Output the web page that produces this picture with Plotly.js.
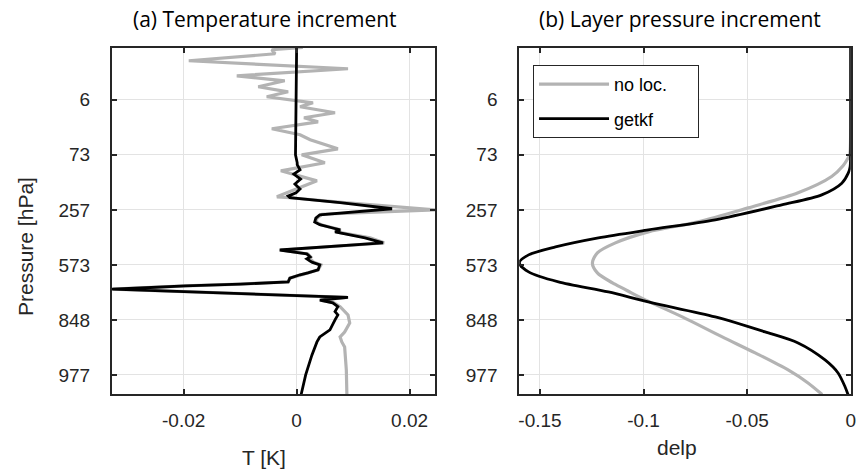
<!DOCTYPE html>
<html>
<head>
<meta charset="utf-8">
<script src="https://cdn.plot.ly/plotly-3.0.1.min.js"></script>
<style>html,body{margin:0;padding:0;background:#fff;}#chart{width:860px;height:475px;}</style>
</head>
<body>
<div id="chart"></div>
<script>
// ---- data (model level index vs increment) ----
const levelsTempNoLoc = [64.5,64.09,63.36,62.09,60.64,59.36,58.45,57.36,56.45,55.55,54.45,53.73,52.64,51.73,51.0,49.73,48.64,47.73,46.09,45.0,43.55,42.09,40.27,39.0,37.36,37.2,36.3,35.0,34.2,33.5,32.8,32.3,31.7,31.36,31.0,30.6,29.9,29.0,27.7,27.0,26.45,26.1,25.5,25.0,24.1,23.55,23.2,22.6,21.9,21.5,21.2,20.8,20.6,19.1,18.6,18.1,17.4,15.9,14.45,12.8,11.9,11.0,10.1,5.9,1.45];
const tempNoLoc = [0.0011,-0.0044,-0.0038,-0.0191,0.0091,-0.0106,-0.0021,-0.0068,-0.0015,-0.0053,0.0029,0.0006,0.0068,0.0013,0.0038,-0.0044,0.0006,0.0024,0.0073,0.0009,0.005,-0.0028,0.0036,0.0006,-0.0035,-0.0012,0.0085,0.0245,0.0045,0.0036,0.0034,0.0043,0.0066,0.0078,0.007,0.0094,0.013,0.0155,-0.0028,0.002,0.0025,0.0024,0.003,0.0043,0.0038,0.002,0.0006,-0.0012,-0.0015,-0.01,-0.0197,-0.0277,-0.0325,0.0089,0.0043,0.0066,0.0077,0.0091,0.0094,0.0085,0.0077,0.008,0.0085,0.0088,0.0089];

const levelsTempGetkf = [64.5,55.0,47.7,45.0,43.55,43.2,42.27,41.5,40.6,39.7,38.8,38.1,37.5,37.2,36.3,35.2,34.1,33.5,32.8,32.3,31.7,31.36,31.0,30.6,29.9,29.0,27.7,27.0,26.45,26.1,25.5,25.0,24.1,23.55,23.2,22.6,21.9,21.5,21.2,20.8,20.6,19.1,18.6,18.1,17.4,16.5,15.9,15.0,13.2,11.9,11.0,8.6,5.0,1.45];
const tempGetkf = [0,-0.0001,-0.0001,-0.0002,0.0001,0.0001,0.0006,-0.0005,0.0007,-0.0003,0.0006,-0.0001,-0.0015,-0.0012,0.0077,0.0169,0.0041,0.0034,0.0032,0.0041,0.0064,0.0077,0.0068,0.0089,0.0121,0.0153,-0.003,0.0018,0.0024,0.0018,0.0027,0.0041,0.0038,0.002,0.0006,-0.0012,-0.0015,-0.01,-0.0197,-0.0277,-0.0327,0.0091,0.0041,0.0064,0.0073,0.0068,0.0073,0.0068,0.0059,0.0041,0.0036,0.0027,0.0016,0.0008];

const levelsDelpNoLoc = [64.5,50,46,45.0,44.45,43.0,41.05,38.09,35.36,32.82,31.0,29.0,27.18,25.36,23.55,21.73,20.64,19.91,18.64,15.55,11.91,9.0,5.91,3.55,1.45];
const delpNoLoc = [0,0,-0.0002,-0.0005,-0.0012,-0.0037,-0.0092,-0.0254,-0.0495,-0.0736,-0.0977,-0.1136,-0.1223,-0.1247,-0.1223,-0.115,-0.1094,-0.1059,-0.0992,-0.0813,-0.062,-0.0461,-0.0302,-0.0206,-0.0138];

const levelsDelpGetkf = [64.5,50,44,42.8,41.67,39.85,37.73,35.91,33.18,31.36,29.91,28.27,26.82,25.36,23.73,21.91,20.09,18.27,15.55,12.82,10.82,7.73,5.36,2.82,1.45];
const delpGetkf = [0,0,-0.0001,-0.0003,-0.0012,-0.0043,-0.014,-0.0333,-0.0654,-0.0977,-0.1218,-0.1425,-0.1555,-0.16,-0.1555,-0.1411,-0.117,-0.0977,-0.0654,-0.0413,-0.0254,-0.0124,-0.0061,-0.0027,-0.0013];

const yTickVals = [5,15,25,35,45,55];
const yTickText = ['977','848','573','257','73','6'];
const xTickValsT = [-0.02,0,0.02];
const xTickTextT = ['-0.02','0','0.02'];
const xTickValsD = [-0.15,-0.1,-0.05,0];
const xTickTextD = ['-0.15','-0.1','-0.05','0'];
const seriesNames = ['no loc.','getkf'];

// ---- styling ----
const GRAY = '#b3b3b3', BLACK = '#000000', AX = '#262626';
const tickFont = {family:'"Liberation Sans", Arial, sans-serif', size:19, color:AX};
const PAD = '\u00a0\u00a0\u00a0\u00a0\u00a0';

const traces = [
  {x:tempNoLoc, y:levelsTempNoLoc, xaxis:'x', yaxis:'y', mode:'lines', name:seriesNames[0], line:{color:GRAY,width:3.2}, showlegend:false},
  {x:tempGetkf, y:levelsTempGetkf, xaxis:'x', yaxis:'y', mode:'lines', name:seriesNames[1], line:{color:BLACK,width:2.8}, showlegend:false},
  {x:delpNoLoc, y:levelsDelpNoLoc, xaxis:'x2', yaxis:'y2', mode:'lines', name:seriesNames[0]+PAD, legendgroup:'g1', line:{color:GRAY,width:3.2,shape:'spline',smoothing:0.8}, showlegend:true},
  {x:delpGetkf, y:levelsDelpGetkf, xaxis:'x2', yaxis:'y2', mode:'lines', name:seriesNames[1], legendgroup:'g2', line:{color:BLACK,width:2.8,shape:'spline',smoothing:0.8}, showlegend:true}
];

function xAx(domain, range, vals, text, anchor){
  return {domain:domain, range:range, anchor:anchor, tickmode:'array', tickvals:vals, ticktext:text,
    ticks:'inside', ticklen:5, tickwidth:2, tickcolor:AX, showline:true, linecolor:AX, linewidth:2,
    mirror:'ticks', showgrid:true, gridcolor:'#e3e3e3', gridwidth:1, zeroline:false,
    tickfont:tickFont, ticklabelstandoff:8, fixedrange:true};
}
function yAx(anchor){
  return {domain:[0.1695,0.9], range:[1.45,64.5], anchor:anchor, tickmode:'array', tickvals:yTickVals, ticktext:yTickText,
    ticks:'inside', ticklen:5, tickwidth:2, tickcolor:AX, showline:true, linecolor:AX, linewidth:2,
    mirror:'ticks', showgrid:true, gridcolor:'#e3e3e3', gridwidth:1, zeroline:false,
    tickfont:tickFont, ticklabelstandoff:16, fixedrange:true};
}

const titleFont = {family:'"Open Sans", sans-serif', size:21, color:'#000'};
const labFont = {family:'"Liberation Sans", Arial, sans-serif', size:21, color:AX};

const layout = {
  width:860, height:475, margin:{l:0,r:0,t:0,b:0},
  paper_bgcolor:'#fff', plot_bgcolor:'#fff',
  xaxis: xAx([0.1302,0.5058], [-0.0327,0.0245], xTickValsT, xTickTextT, 'y'),
  yaxis: yAx('x'),
  xaxis2: xAx([0.6038,0.9892], [-0.16,0], xTickValsD, xTickTextD, 'y2'),
  yaxis2: yAx('x2'),
  showlegend:true,
  legend:{x:0.6198, y:0.8632, xanchor:'left', yanchor:'top', bgcolor:'#fff', bordercolor:AX, borderwidth:1,
    font:{family:'"Liberation Sans", Arial, sans-serif', size:18, color:'#000'}, itemwidth:70,
    traceorder:'grouped', tracegroupgap:8},
  annotations:[
    {text:'(a) Temperature increment', xref:'paper', yref:'paper', x:265/860, y:1-19/475, xanchor:'center', yanchor:'middle', showarrow:false, font:titleFont},
    {text:'(b) Layer pressure increment', xref:'paper', yref:'paper', x:680/860, y:1-19/475, xanchor:'center', yanchor:'middle', showarrow:false, font:titleFont},
    {text:'T [K]', xref:'paper', yref:'paper', x:264/860, y:1-457/475, xanchor:'center', yanchor:'middle', showarrow:false, font:labFont},
    {text:'delp', xref:'paper', yref:'paper', x:677/860, y:1-447/475, xanchor:'center', yanchor:'middle', showarrow:false, font:labFont},
    {text:'Pressure [hPa]', xref:'paper', yref:'paper', x:25/860, y:1-247/475, xanchor:'center', yanchor:'middle', textangle:-90, showarrow:false, font:labFont}
  ]
};

Plotly.newPlot('chart', traces, layout, {displayModeBar:false, staticPlot:true});
</script>
</body>
</html>
